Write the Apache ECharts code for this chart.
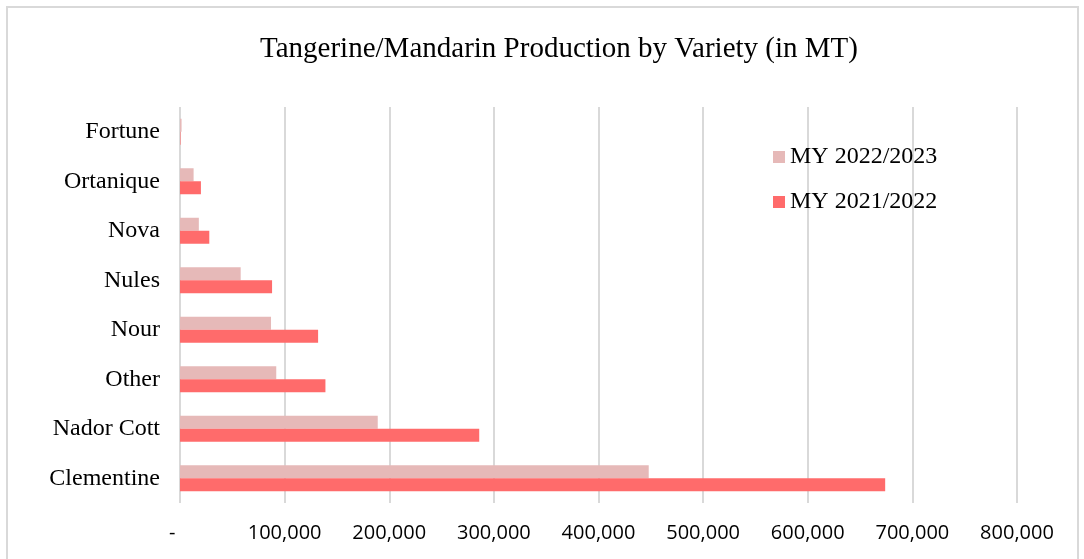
<!DOCTYPE html>
<html><head><meta charset="utf-8">
<script src="https://cdn.jsdelivr.net/npm/echarts@6/dist/echarts.min.js"></script>
<style>html,body{margin:0;padding:0;background:#fff}#c{width:1084px;height:559px}</style>
</head><body><div id="c"></div>
<script>
const categories = ['Clementine','Nador Cott','Other','Nour','Nules','Nova','Ortanique','Fortune'];
const my2021 = [674000, 286000, 139000, 132000, 88000, 28000, 20000, 500];
const my2022 = [448000, 189000, 92000, 87000, 58000, 18000, 13000, 1500];
const xTicks = { min: 0, max: 800000, interval: 100000 };
const seriesNames = ['MY 2022/2023', 'MY 2021/2022'];

const chart = echarts.init(document.getElementById('c'));
chart.setOption({
  animation: false,
  backgroundColor: '#fff',
  graphic: [{ type: 'rect', shape: { x: 7, y: 7, width: 1071, height: 570 }, style: { fill: 'none', stroke: '#d9d9d9', lineWidth: 2 } }],
  title: {
    text: 'Tangerine/Mandarin Production by Variety (in MT)',
    left: 554, top: 30, textAlign: 'center',
    textStyle: { fontFamily: 'Liberation Serif', fontSize: 29, fontWeight: 'normal', color: '#000' }
  },
  legend: {
    data: seriesNames, orient: 'vertical', left: 768, top: 140,
    itemWidth: 12, itemHeight: 12, itemGap: 21, icon: 'rect',
    textStyle: { fontFamily: 'Liberation Serif', fontSize: 24, color: '#000' }
  },
  grid: { left: 180, right: 67, top: 107, bottom: 56, containLabel: false },
  xAxis: {
    type: 'value', min: xTicks.min, max: xTicks.max, interval: xTicks.interval,
    axisLine: { show: false }, axisTick: { show: false },
    splitLine: { lineStyle: { color: '#d9d9d9', width: 2 } },
    axisLabel: {
      margin: 20, fontFamily: 'Open Sans', fontSize: 20, color: '#000',
      formatter: v => v === 0 ? '-   ' : v.toLocaleString('en-US')
    }
  },
  yAxis: {
    type: 'category', data: categories,
    axisLine: { show: false }, axisTick: { show: false },
    axisLabel: { margin: 20, fontFamily: 'Liberation Serif', fontSize: 24, color: '#000' }
  },
  series: [
    { name: seriesNames[0], type: 'bar', data: my2022, barWidth: 13, barGap: '0%', itemStyle: { color: '#e6b9b8' } },
    { name: seriesNames[1], type: 'bar', data: my2021, barWidth: 13, barGap: '0%', itemStyle: { color: '#ff6b6b' } }
  ]
});
</script></body></html>
